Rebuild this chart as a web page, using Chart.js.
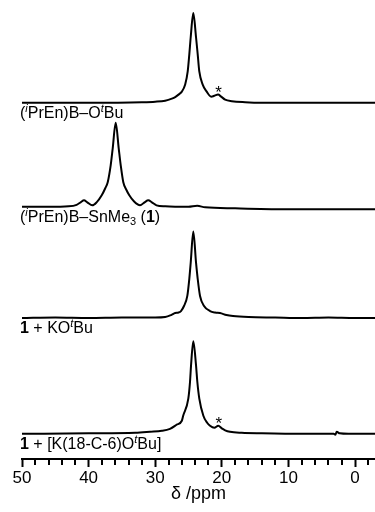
<!DOCTYPE html>
<html>
<head>
<meta charset="utf-8">
<script src="https://cdn.jsdelivr.net/npm/chart.js@4.4.1/dist/chart.umd.min.js"></script>
<style>
  html, body { margin: 0; padding: 0; background: #fff; }
  #wrap { width: 375px; height: 512px; }
</style>
</head>
<body>
<div id="wrap"><canvas id="nmr-chart" width="375" height="512"></canvas></div>
<script>
// 11B NMR spectra (delta in ppm, intensity in arbitrary units)

// (iPrEn)B-OtBu
const ppmA = [50, 40, 32, 30, 28.5, 27.5, 27, 26.5, 26.0, 25.5, 25.12, 24.88, 24.67, 24.28, 23.87, 23.62, 23.38, 22.87, 22.27, 21.6, 21.3, 20.9, 20.57, 20.1, 19.5, 18.5, 16.5, 14, 5, -3];
const intA = [0, 0, 0.5, 1, 2, 4, 5.5, 8, 11, 18, 31, 48, 65, 89, 65, 48, 31, 18, 11, 6, 6.3, 7.5, 8, 6, 3, 1.5, 0.5, 0, 0, 0];

// (iPrEn)B-SnMe3 (1)
const ppmB = [50, 46, 43, 41.8, 41.2, 40.69, 40.2, 39.44, 38.8, 38.03, 37.5, 37.13, 36.68, 36.38, 35.93, 35.48, 35.18, 34.79, 34.3, 33.89, 33.2, 32.28, 31.6, 31.04, 30.5, 29.8, 28.5, 25, 23.7, 22.5, 18, 10, 0, -3];
const intB = [0.5, 0.5, 1, 2.5, 5, 7, 5, 2, 5, 12, 19, 25, 42, 58.7, 84, 58.7, 42, 25, 17, 12, 6, 2, 5, 7, 5, 2, 1, 0.5, 1.5, 0, -1, -2, -2, -2];

// 1 + KOtBu
const ppmC = [50, 45, 40, 35, 30, 28.5, 27.6, 27.0, 26.5, 26.13, 25.68, 25.18, 24.88, 24.67, 24.28, 23.87, 23.62, 23.27, 22.67, 21.77, 21.0, 20.27, 19.3, 18.32, 16, 12, 8, 4, 0, -3];
const intC = [0, 0.5, 0, 0.5, 0.5, 1, 3, 5, 5.5, 7, 12, 22, 39, 55, 86, 55, 39, 22, 12, 7, 5.5, 5, 3, 2, 1, 0.5, 0, 0.5, 0, 0];

// 1 + [K(18-C-6)OtBu]
const ppmD = [50, 40, 33, 30.78, 29, 27.78, 26.8, 26.0, 25.8, 25.03, 24.77, 24.62, 24.28, 23.87, 23.68, 23.38, 22.77, 22.2, 21.77, 21.12, 20.53, 20.0, 19.5, 18.77, 17, 14, 8, 3.2, 2.95, 2.75, 2.3, 1, -3];
const intD = [0, 0.5, 1, 2, 3, 5, 9, 13, 18, 35, 52, 68, 92, 68, 52, 35, 18, 11, 8, 6, 8, 5.5, 3.5, 2, 1, 0.5, 0, 0, -1, 2, 0.5, 0, 0];

const majorTicks = [50, 40, 30, 20, 10, 0];
const minorTicks = [48, 46, 44, 42, 38, 36, 34, 32, 28, 26, 24, 22, 18, 16, 14, 12, 8, 6, 4, 2, -2];

// layout: baseline of each trace (y units) and its label
const spectra = [
    { ppm: ppmA, int: intA, offset: 354, label: [['('], ['i', 'sup'], ['PrEn)B\u2013O'], ['t', 'sup'], ['Bu']], star: 20.57 },
    { ppm: ppmB, int: intB, offset: 250, label: [['('], ['i', 'sup'], ['PrEn)B\u2013SnMe'], ['3', 'sub'], [' ('], ['1', 'bold'], [')']] },
    { ppm: ppmC, int: intC, offset: 140, label: [['1', 'bold'], [' + KO'], ['t', 'sup'], ['Bu']] },
    { ppm: ppmD, int: intD, offset: 25, label: [['1', 'bold'], [' + [K(18-C-6)O'], ['t', 'sup'], ['Bu]']], star: 20.53 }
];

const FONT = '"Liberation Sans", Arial, sans-serif';

const datasets = spectra.map(s => ({
    data: s.ppm.map((p, i) => ({ x: p, y: s.offset + s.int[i] })),
    borderColor: '#000',
    borderWidth: 2,
    pointRadius: 0,
    fill: false,
    cubicInterpolationMode: 'monotone'
}));

// minor ticks + trace labels
const decorations = {
    id: 'decorations',
    afterDraw(chart) {
        const ctx = chart.ctx;
        const xs = chart.scales.x;
        const ys = chart.scales.y;
        ctx.save();
        ctx.strokeStyle = '#000';
        ctx.lineWidth = 2;
        minorTicks.forEach(v => {
            const px = Math.round(xs.getPixelForValue(v));
            ctx.beginPath();
            ctx.moveTo(px, xs.top);
            ctx.lineTo(px, xs.top + 6);
            ctx.stroke();
        });

        ctx.fillStyle = '#000';
        ctx.textBaseline = 'alphabetic';
        spectra.forEach(s => {
            let x = 20;
            const y = ys.getPixelForValue(s.offset) + 15;
            s.label.forEach(([t, kind]) => {
                let size = 16, dy = 0, style = '';
                if (kind === 'sup') { size = 11; dy = -6; style = 'italic '; }
                if (kind === 'sub') { size = 11; dy = 3; }
                if (kind === 'bold') { style = 'bold '; }
                ctx.font = style + size + 'px ' + FONT;
                ctx.fillText(t, x, y + dy);
                x += ctx.measureText(t).width;
            });
            if (s.star) {
                ctx.font = '17px ' + FONT;
                ctx.textAlign = 'center';
                ctx.fillText('*', xs.getPixelForValue(s.star) + 0.5, ys.getPixelForValue(s.offset + 11) + 6);
                ctx.textAlign = 'left';
            }
        });
        ctx.restore();
    }
};

const nmrChart = new Chart(document.getElementById('nmr-chart'), {
    type: 'line',
    data: { datasets: datasets },
    options: {
        responsive: false,
        devicePixelRatio: 1,
        animation: false,
        layout: { padding: { left: 22, right: 0, top: 0, bottom: 7 } },
        plugins: { legend: { display: false }, tooltip: { enabled: false } },
        scales: {
            x: {
                type: 'linear',
                reverse: true,
                min: -3,
                max: 50,
                border: { display: true, color: '#000', width: 2 },
                grid: { drawOnChartArea: false, drawTicks: true, tickLength: 8, tickWidth: 2, tickColor: '#000' },
                ticks: {
                    stepSize: 10,
                    includeBounds: false,
                    autoSkip: false,
                    maxRotation: 0,
                    padding: 1,
                    color: '#000',
                    font: { family: FONT, size: 17 },
                    callback: v => majorTicks.includes(v) ? String(v) : ''
                },
                title: {
                    display: true,
                    text: '\u03b4 /ppm',
                    color: '#000',
                    font: { family: FONT, size: 18 },
                    padding: { top: -6, bottom: 0 }
                }
            },
            y: { display: false, min: 0, max: 456 }
        }
    },
    plugins: [decorations]
});
</script>
</body>
</html>
